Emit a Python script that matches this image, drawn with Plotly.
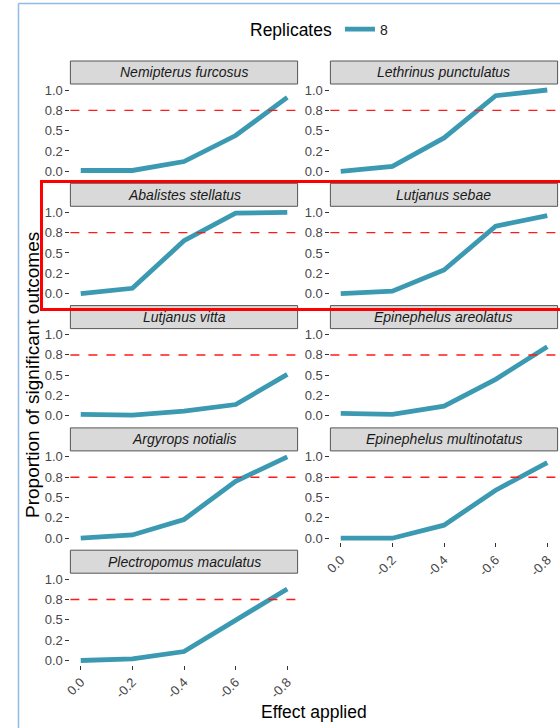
import plotly.graph_objects as go

# ---- data -------------------------------------------------------------
species = [
    "Nemipterus furcosus", "Lethrinus punctulatus",
    "Abalistes stellatus", "Lutjanus sebae",
    "Lutjanus vitta", "Epinephelus areolatus",
    "Argyrops notialis", "Epinephelus multinotatus",
    "Plectropomus maculatus",
]
effect = [0.0, -0.2, -0.4, -0.6, -0.8]
effect_labels = ["0.0", "-0.2", "-0.4", "-0.6", "-0.8"]

nemipterus_furcosus = [0.01, 0.01, 0.12, 0.44, 0.91]
lethrinus_punctulatus = [0.00, 0.06, 0.41, 0.93, 1.00]
abalistes_stellatus = [0.00, 0.065, 0.65, 0.99, 1.00]
lutjanus_sebae = [0.00, 0.03, 0.29, 0.83, 0.96]
lutjanus_vitta = [0.02, 0.01, 0.06, 0.14, 0.51]
epinephelus_areolatus = [0.03, 0.02, 0.12, 0.45, 0.85]
argyrops_notialis = [0.00, 0.04, 0.23, 0.70, 1.00]
epinephelus_multinotatus = [0.00, 0.00, 0.16, 0.59, 0.93]
plectropomus_maculatus = [0.00, 0.02, 0.11, 0.50, 0.88]

proportions = [
    nemipterus_furcosus, lethrinus_punctulatus,
    abalistes_stellatus, lutjanus_sebae,
    lutjanus_vitta, epinephelus_areolatus,
    argyrops_notialis, epinephelus_multinotatus,
    plectropomus_maculatus,
]

y_ticks = [0.0, 0.25, 0.5, 0.75, 1.0]
y_tick_labels = ["0.0", "0.2", "0.5", "0.8", "1.0"]
threshold = 0.75
replicates = "8"

# ---- styling / geometry -----------------------------------------------
W, H = 560, 728
FONT = "Liberation Sans, Arial, sans-serif"
LINE_COLOR = "#3B9AB2"
TICK_COLOR = "#474747"
COL_LEFT = [70.4, 330.4]
PANEL_W = 227.2
ROW_ONE = 90.0       # pixel row of y = 1.0 in the first facet row
ROW_PITCH = 122.3
UNIT = 81.3          # pixels per unit of y
Y_RANGE = [-0.05, 1.05]
X_RANGE = [0.04, -0.84]

fig = go.Figure()
shapes = []
annotations = []
layout_axes = {}

for i, (name, values) in enumerate(zip(species, proportions)):
    r, c = divmod(i, 2)
    n = i + 1
    xname = "x" if n == 1 else f"x{n}"
    yname = "y" if n == 1 else f"y{n}"
    left = COL_LEFT[c]
    right = left + PANEL_W
    y_one = ROW_ONE + r * ROW_PITCH
    top = y_one - (Y_RANGE[1] - 1.0) * UNIT
    bottom = y_one + (1.0 - Y_RANGE[0]) * UNIT

    fig.add_trace(go.Scatter(
        x=effect, y=values, mode="lines", xaxis=xname, yaxis=yname,
        line=dict(color=LINE_COLOR, width=4.8),
        name=replicates, legendgroup="rep", showlegend=(i == 0),
        hoverinfo="skip",
    ))

    bottom_panel = i in (7, 8)
    layout_axes["xaxis" if n == 1 else f"xaxis{n}"] = dict(
        domain=[left / W, right / W], anchor=yname, range=X_RANGE,
        automargin=False,
        showgrid=False, zeroline=False, showline=False,
        tickvals=effect, ticktext=effect_labels,
        ticks="outside" if bottom_panel else "", ticklen=4, tickwidth=1,
        tickcolor="#333333", showticklabels=bottom_panel, tickangle=-45,
        tickfont=dict(family=FONT, size=13, color=TICK_COLOR),
    )
    layout_axes["yaxis" if n == 1 else f"yaxis{n}"] = dict(
        domain=[1 - bottom / H, 1 - top / H], anchor=xname, range=Y_RANGE,
        automargin=False,
        showgrid=False, zeroline=False, showline=False,
        tickvals=y_ticks, ticktext=y_tick_labels,
        ticks="outside", ticklen=4, tickwidth=1, tickcolor="#333333",
        tickfont=dict(family=FONT, size=13, color=TICK_COLOR),
    )

    # threshold line
    shapes.append(dict(
        type="line", xref=f"{xname} domain", yref=yname,
        x0=0, x1=1, y0=threshold, y1=threshold,
        line=dict(color="#ff1a1a", width=1.4, dash="dash"),
    ))
    # facet strip
    s_top, s_bot = y_one - 29, y_one - 6
    shapes.append(dict(
        type="rect", xref="paper", yref="paper", layer="below",
        x0=left / W, x1=right / W, y0=1 - s_bot / H, y1=1 - s_top / H,
        fillcolor="#d9d9d9", line=dict(color="#555555", width=1),
    ))
    annotations.append(dict(
        text=f"<i>{name}</i>", xref="paper", yref="paper",
        x=(left + right) / 2 / W, y=1 - (s_top + s_bot) / 2 / H,
        xanchor="center", yanchor="middle", showarrow=False,
        font=dict(family=FONT, size=14, color="#1a1a1a"),
    ))

# highlight box around the second facet row
shapes.append(dict(
    type="rect", xref="paper", yref="paper",
    x0=41.5 / W, x1=566 / W, y0=1 - 309.5 / H, y1=1 - 181.5 / H,
    line=dict(color="#ff0000", width=3), fillcolor="rgba(0,0,0,0)",
))
# frame lines on the left and top
shapes.append(dict(type="line", xref="paper", yref="paper",
                   x0=18.5 / W, x1=18.5 / W, y0=0, y1=1 - 3.5 / H,
                   line=dict(color="#8fbbe6", width=1.5)))
shapes.append(dict(type="line", xref="paper", yref="paper",
                   x0=18.5 / W, x1=1.01, y0=1 - 3.5 / H, y1=1 - 3.5 / H,
                   line=dict(color="#8fbbe6", width=1.5)))

annotations.append(dict(
    text="Effect applied", xref="paper", yref="paper",
    x=314 / W, y=1 - 712 / H, xanchor="center", yanchor="middle",
    showarrow=False, font=dict(family=FONT, size=17.5, color="#000000"),
))
annotations.append(dict(
    text="Proportion of significant outcomes", xref="paper", yref="paper",
    x=33 / W, y=1 - 375 / H, xanchor="center", yanchor="middle",
    textangle=-90, showarrow=False,
    font=dict(family=FONT, size=19, color="#000000"),
))

fig.update_layout(
    width=W, height=H, margin=dict(l=0, r=0, t=0, b=0, autoexpand=False),
    paper_bgcolor="white", plot_bgcolor="rgba(0,0,0,0)",
    shapes=shapes, annotations=annotations,
    showlegend=True,
    legend=dict(
        orientation="h", x=248 / W, xanchor="left", y=1 - 30 / H,
        yanchor="middle", bgcolor="rgba(0,0,0,0)",
        title=dict(text="Replicates", side="left",
                   font=dict(family=FONT, size=17.5, color="#000000")),
        font=dict(family=FONT, size=14, color="#1a1a1a"),
    ),
    **layout_axes,
)

fig.write_html("out.html")
